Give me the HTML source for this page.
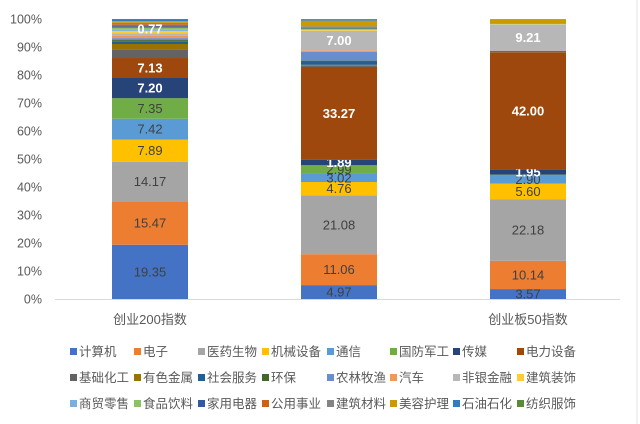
<!DOCTYPE html>
<html><head><meta charset="utf-8"><style>
body{margin:0;background:#fff;width:640px;height:424px;overflow:hidden;font-family:"Liberation Sans","Noto Sans CJK SC",sans-serif}
</style></head><body>
<svg id="c" width="640" height="424" style="position:absolute;left:0;top:0">
<line x1="637" y1="0" x2="637" y2="424" stroke="#e3e3e3"/>
</svg>
<script>
const categories=["创业200指数","","创业板50指数"];
const industries=["计算机","电子","医药生物","机械设备","通信","国防军工","传媒","电力设备","基础化工","有色金属","社会服务","环保","农林牧渔","汽车","非银金融","建筑装饰","商贸零售","食品饮料","家用电器","公用事业","建筑材料","美容护理","石油石化","纺织服饰"];
const colors=["#4472C4","#ED7D31","#A5A5A5","#FFC000","#5B9BD5","#70AD47","#264478","#9E480E","#636363","#997300","#255E91","#43682B","#698ED0","#F1975A","#B7B7B7","#FFCD33","#7CAFDD","#8CC168","#335AA1","#D26012","#848484","#CC9A00","#327DC2","#5A8A39"];
const series0=[19.35,15.47,14.17,7.89,7.42,7.35,7.20,7.13,3.0,2.0,0.8,0.6,0.7,1.0,0.77,0.8,0.6,0.6,0.5,0.7,0.5,0.6,0.4,0.35];
const series1=[4.97,11.06,21.08,4.76,3.02,2.99,1.89,33.27,0.4,0.36,1.2,0.3,3.2,0.5,7.00,0.3,0.3,0.2,0.2,0.3,0.3,2.0,0.3,0.3];
const series2=[3.57,10.14,22.18,5.60,2.90,0.3,1.95,42.00,0.1,0.1,0.3,0.05,0.1,0.1,9.21,0.1,0.05,0.1,0.05,0.1,0.05,1.5,0.05,0.05];
const seriesAll=[series0,series1,series2];
const labeled0=[0,1,2,3,4,5,6,7];
const labeled1=[0,1,2,3,4,5,6,7,14];
const labeled2=[0,1,2,3,4,6,7,14];
const labeledAll=[labeled0,labeled1,labeled2];
const yTicks=[0,10,20,30,40,50,60,70,80,90,100];
const whiteLabels=[6,7,14];

const NS="http://www.w3.org/2000/svg";
const svg=document.getElementById('c');
const y0=299,y1=19;
const yS=v=>y0-(v/100)*(y0-y1);
const xC=i=>150+i*189;
const bw=76;
function mk(t,a){const e=document.createElementNS(NS,t);for(const k in a)e.setAttribute(k,a[k]);svg.appendChild(e);return e;}
yTicks.forEach(t=>{
  const e=mk('text',{x:42,y:yS(t)+4.5,'text-anchor':'end','font-size':12.5,fill:'#595959'});
  e.textContent=t+'%';
  
  
});
const ax=mk('line',{x1:55,y1:y0+0.5,x2:620,y2:y0+0.5,stroke:'#d9d9d9'});


seriesAll.forEach((s,bi)=>{
  const tot=s.reduce((a,b)=>a+b,0);
  let acc=0;
  s.forEach((v,k)=>{
    const v2=v*100/tot;
    const top=yS(acc+v2),bot=yS(acc);
    const r=mk('rect',{x:xC(bi)-bw/2,y:top,width:bw,height:Math.max(0,bot-top),fill:colors[k]});
    
    
    if(labeledAll[bi].includes(k)){
      const w=whiteLabels.includes(k);
      const t=mk('text',{x:xC(bi),y:(top+bot)/2+4.5,'text-anchor':'middle','font-size':13,fill:w?'#fff':'#404040','font-weight':w?'bold':'normal'});
      t.textContent=v.toFixed(2);
      
      
    }
    acc+=v2;
  });
  if(bi===0){
    const t=mk('text',{x:xC(bi),y:yS(96.4)+4.5,'text-anchor':'middle','font-size':13,fill:'#fff','font-weight':'bold'});
    t.textContent=series0[14].toFixed(2);
    
    
  }
  if(categories[bi]){
    const t=mk('text',{x:xC(bi),y:324,'text-anchor':'middle','font-size':13,fill:'#595959'});
    t.textContent=categories[bi];
    
    
  }
});
const colX=[70,134,198,262,327,390,453,517];
industries.forEach((n,i)=>{
  const cx=colX[i%8],cy=352+Math.floor(i/8)*26;
  const r=mk('rect',{x:cx,y:cy-4,width:7,height:7,fill:colors[i]});
  
  
  const t=mk('text',{x:cx+9,y:cy+4,'font-size':12.5,fill:'#595959'});
  t.textContent=n;
  
  
});
</script>
</body></html>
